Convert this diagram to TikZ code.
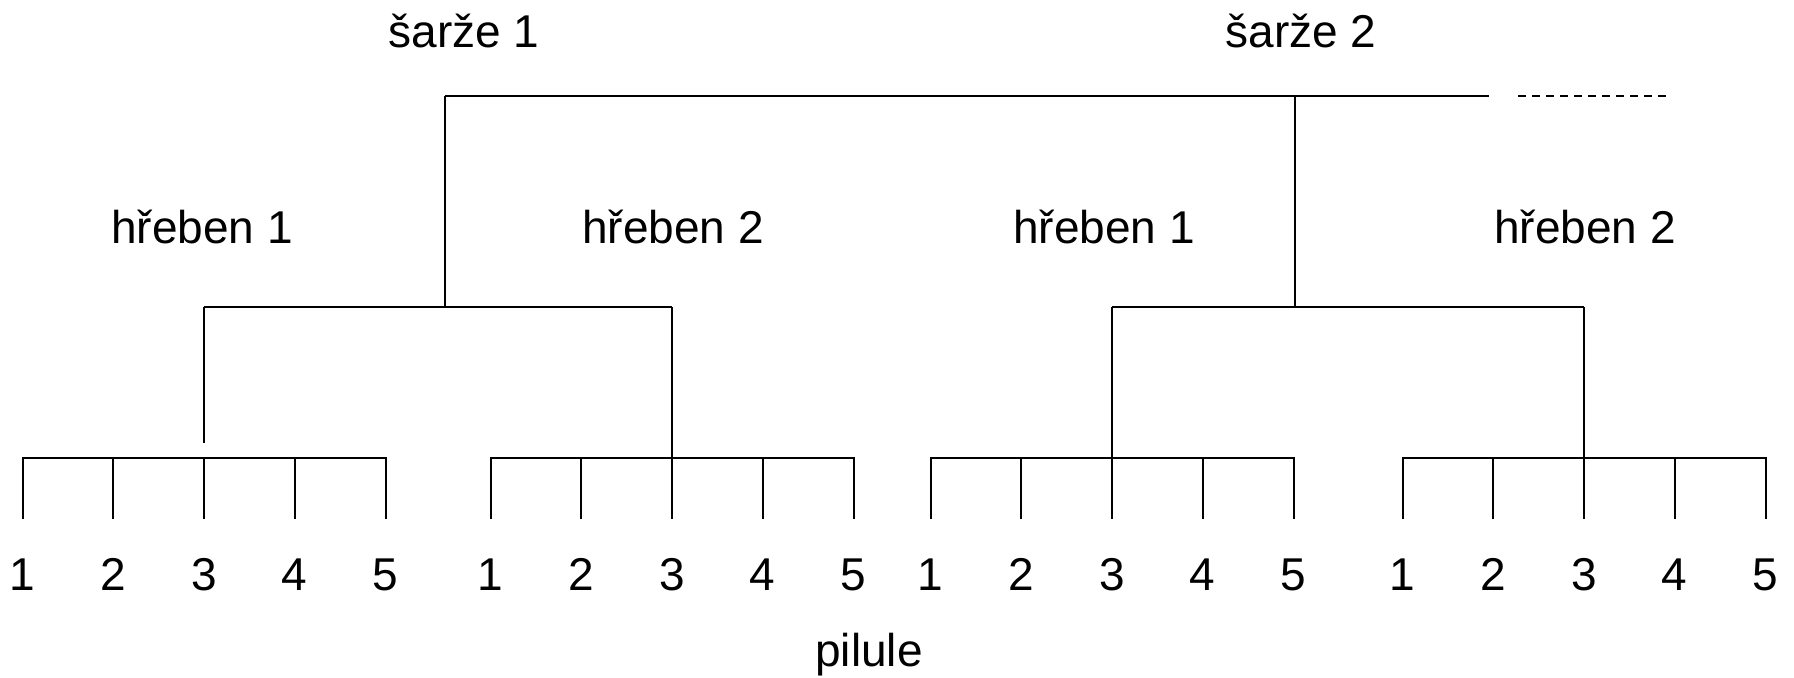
\documentclass[tikz,border=0pt]{standalone}
\usepackage{fontspec}
\setmainfont{Liberation Sans}
\begin{document}
\begin{tikzpicture}[x=0.5pt,y=-0.5pt,line width=1pt,
  lbl/.style={font=\fontsize{23}{27}\selectfont,inner sep=0pt,anchor=base},
  more/.style={dash pattern=on 3.75pt off 3.25pt}]
\useasboundingbox (0,0) rectangle (1794,677);

% batch level
\node[lbl] (sarze1) at (464,47) {šarže 1};
\node[lbl] (sarze2) at (1301,47) {šarže 2};
\coordinate (s1) at (445,96);
\coordinate (s2) at (1295,96);
\coordinate (send) at (1489,96);
\coordinate (d1) at (1518,96);
\coordinate (d2) at (1666,96);
\draw (s1) -- (send);
\draw[more] (d1) -- (d2);

% comb level
\node[lbl] (h11) at (202,243) {hřeben 1};
\node[lbl] (h12) at (673,243) {hřeben 2};
\node[lbl] (h21) at (1104,243) {hřeben 1};
\node[lbl] (h22) at (1585,243) {hřeben 2};
\coordinate (r11) at (204,307);
\coordinate (r12) at (672,307);
\coordinate (r21) at (1112,307);
\coordinate (r22) at (1584,307);
\draw (s1) -- (s1 |- r11);
\draw (s2) -- (s2 |- r21);
\draw (r11) -- (r12);
\draw (r21) -- (r22);

% pill level
\foreach \c [count=\g] in {204,672,1112,1584} {
  \foreach \i in {1,...,5} {
    \coordinate (t\g\i) at ({\c+(\i-3)*90.75},458);
    \coordinate (b\g\i) at ({\c+(\i-3)*90.75},519);
    \node[lbl] (n\g\i) at ({\c+(\i-3)*90.75},590) {\i};
  }
  \draw (b\g1) -- (t\g1) -- (t\g5) -- (b\g5);
  \foreach \i in {2,3,4} { \draw (t\g\i) -- (b\g\i); }
}
\coordinate (k11) at (204,443);
\draw (r11) -- (k11);
\draw (r12) -- (t23);
\draw (r21) -- (t33);
\draw (r22) -- (t43);

\node[lbl] (pilule) at (869,666) {pilule};
\end{tikzpicture}
\end{document}
